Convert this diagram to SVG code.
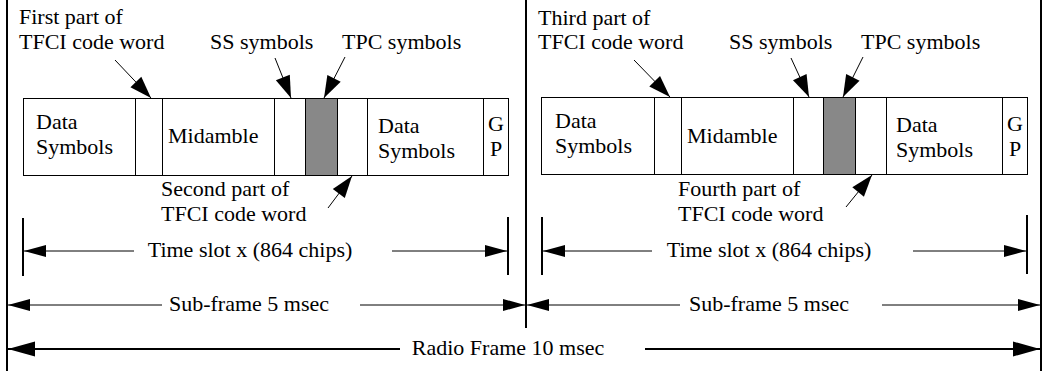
<svg xmlns="http://www.w3.org/2000/svg" width="1047" height="371" viewBox="0 0 1047 371">
<style>
text{font-family:"Liberation Serif","Times New Roman",serif;font-size:22px;fill:#000}
.c{fill:#fff;stroke:#000;stroke-width:1}
.g{fill:#888;stroke:#000;stroke-width:1}
.b{stroke:#000;stroke-width:2;fill:none}
.d{stroke:#000;stroke-width:1;fill:none;marker-end:url(#ah)}
.r{stroke:#000;stroke-width:2;fill:none;marker-end:url(#ahr)}
.p{stroke:#000;stroke-width:1;fill:none;marker-end:url(#ap)}
.m{text-anchor:middle}
</style>
<defs>
<marker id="ah" markerUnits="userSpaceOnUse" markerWidth="22" markerHeight="12" refX="22" refY="6" orient="auto" overflow="visible"><path d="M0,0 L22,6 L0,12 z" fill="#000"/></marker>
<marker id="ahr" markerUnits="userSpaceOnUse" markerWidth="27" markerHeight="15" refX="27" refY="7.5" orient="auto" overflow="visible"><path d="M0,0 L27,7.5 L0,15 z" fill="#000"/></marker>
<marker id="ap" markerUnits="userSpaceOnUse" markerWidth="22" markerHeight="15" refX="22" refY="7.5" orient="auto" overflow="visible"><path d="M0,0 L22,7.5 L0,15 z" fill="#000"/></marker>
</defs>

<g id="frame-lines">
<line class="b" x1="7" y1="0" x2="7" y2="371"/>
<line class="b" x1="526" y1="0" x2="526" y2="328"/>
<line class="b" x1="1041" y1="0" x2="1041" y2="371"/>
</g>

<g id="slot1">
<rect class="c" x="23.5" y="98.5" width="485" height="77"/>
<rect class="c" x="135.5" y="98.5" width="27" height="77"/>
<rect class="c" x="274.5" y="98.5" width="31" height="77"/>
<rect class="g" x="305.5" y="98.5" width="32" height="77"/>
<rect class="c" x="337.5" y="98.5" width="30" height="77"/>
<line stroke="#000" x1="483.5" y1="98.5" x2="483.5" y2="175.5"/>
<text x="36" y="129">Data</text>
<text x="36" y="154">Symbols</text>
<text x="168" y="143">Midamble</text>
<text x="378" y="133">Data</text>
<text x="378" y="158">Symbols</text>
<text class="m" x="496" y="131">G</text>
<text class="m" x="496" y="156">P</text>
</g>

<g id="slot2">
<rect class="c" x="541.5" y="97.5" width="486" height="77"/>
<rect class="c" x="654.5" y="97.5" width="27" height="77"/>
<rect class="c" x="793.5" y="97.5" width="30" height="77"/>
<rect class="g" x="823.5" y="97.5" width="32" height="77"/>
<rect class="c" x="855.5" y="97.5" width="31" height="77"/>
<line stroke="#000" x1="1002.5" y1="97.5" x2="1002.5" y2="174.5"/>
<text x="555" y="128">Data</text>
<text x="555" y="153">Symbols</text>
<text x="687" y="143">Midamble</text>
<text x="896" y="132">Data</text>
<text x="896" y="157">Symbols</text>
<text class="m" x="1015" y="131">G</text>
<text class="m" x="1015" y="156">P</text>
</g>

<g id="labels1">
<text x="19" y="24">First part of</text>
<text x="19" y="49">TFCI code word</text>
<text x="210" y="49">SS symbols</text>
<text x="342" y="49">TPC symbols</text>
<text x="161" y="196">Second part of</text>
<text x="161" y="221">TFCI code word</text>
</g>

<g id="labels2">
<text x="538" y="25">Third part of</text>
<text x="538" y="49">TFCI code word</text>
<text x="729" y="49">SS symbols</text>
<text x="861" y="49">TPC symbols</text>
<text x="678" y="196">Fourth part of</text>
<text x="678" y="221">TFCI code word</text>
</g>

<g id="ticks">
<line class="b" x1="23" y1="218" x2="23" y2="276"/>
<line class="b" x1="508" y1="217" x2="508" y2="275"/>
<line class="b" x1="542" y1="217" x2="542" y2="275"/>
<line class="b" x1="1027" y1="215" x2="1027" y2="274"/>
</g>

<g id="dimension-labels">
<text class="m" x="250" y="257">Time slot x (864 chips)</text>
<text class="m" x="769" y="257">Time slot x (864 chips)</text>
<text class="m" x="249" y="311">Sub-frame 5 msec</text>
<text class="m" x="769" y="311">Sub-frame 5 msec</text>
<text class="m" x="508" y="355">Radio Frame 10 msec</text>
</g>

<g id="connectors">
<line class="p" x1="115" y1="60" x2="151" y2="98"/>
<line class="p" x1="275" y1="58" x2="291" y2="98"/>
<line class="p" x1="345" y1="57" x2="324" y2="98"/>
<line class="p" x1="328" y1="208" x2="352" y2="176"/>
<line class="p" x1="634" y1="60" x2="670" y2="97"/>
<line class="p" x1="791" y1="58" x2="809" y2="97"/>
<line class="p" x1="863" y1="57" x2="843" y2="97"/>
<line class="p" x1="846" y1="207" x2="872" y2="175"/>

<line class="d" x1="134" y1="251" x2="24" y2="251"/>
<line class="d" x1="392" y1="251" x2="507" y2="251"/>
<line class="d" x1="652" y1="251" x2="543" y2="251"/>
<line class="d" x1="913" y1="251" x2="1026" y2="251"/>

<line class="d" x1="162" y1="305" x2="8" y2="305"/>
<line class="d" x1="360" y1="305" x2="525" y2="305"/>
<line class="d" x1="680" y1="305" x2="527" y2="305"/>
<line class="d" x1="882" y1="305" x2="1040" y2="305"/>

<line class="r" x1="400" y1="349" x2="8" y2="349"/>
<line class="r" x1="645" y1="349" x2="1040" y2="349"/>
</g>
</svg>
